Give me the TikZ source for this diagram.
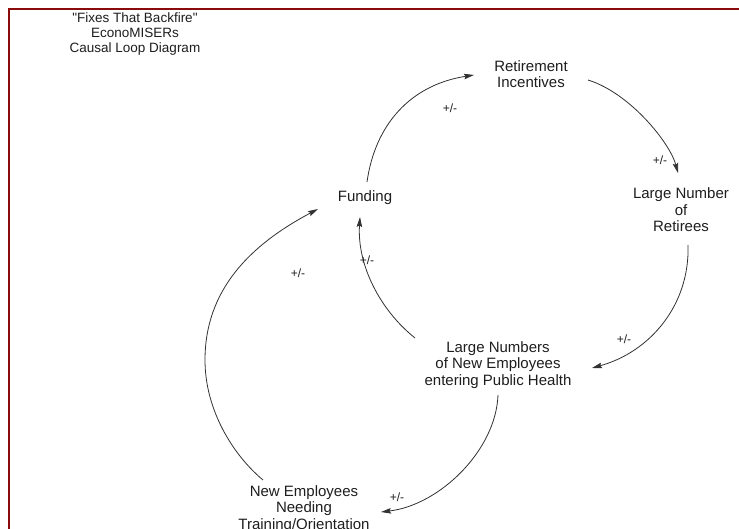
\documentclass[tikz,border=0pt]{standalone}
\usepackage{fontspec}
\setmainfont{Liberation Sans}
\usetikzlibrary{arrows.meta,calc}
\definecolor{framered}{RGB}{139,10,10}
\definecolor{ink}{RGB}{30,30,30}
\definecolor{wire}{RGB}{50,50,50}
\begin{document}
\begin{tikzpicture}[x=1bp,y=-1bp,
  var/.style={align=center,inner sep=0pt,text=ink,
    font=\fontsize{15bp}{16.5bp}\selectfont},
  heading/.style={align=center,inner sep=0pt,text=ink,
    font=\fontsize{13.5bp}{15bp}\selectfont},
  sign/.style={inner sep=0pt,text=ink,font=\fontsize{12bp}{13bp}\selectfont},
  link/.style={draw=wire,line width=0.8bp,
    -{Stealth[length=10bp,width=5.5bp,inset=1.5bp]}}]
\useasboundingbox (0,0) rectangle (739,529);
\fill[white] (0,0) rectangle (739,529);
% page frame
\draw[framered,line width=2.4bp] (9,529) -- (9,9) -- (739,9);

% title
\node[heading] (title) at (135,34) {\textquotedbl Fixes That Backfire\textquotedbl\\EconoMISERs\\Causal Loop Diagram};

% variables
\node[var] (ri)   at (531,74)  {Retirement\\Incentives};
\node[var] (fund) at (365,198) {Funding};
\node[var] (ret)  at (681,210) {Large Number\\of\\Retirees};
\node[var] (lne)  at (498,365) {Large Numbers\\of New Employees\\entering Public Health};
\node[var] (nen)  at (304,509) {New Employees\\Needing\\Training/Orientation};

% causal links
\draw[link] ($(fund)+(2,-16)$) .. controls +(8,-57) and +(-64,10) .. ($(ri)+(-57,1)$);
\draw[link] ($(ri)+(57,6)$) .. controls +(42,13) and +(-8,-30) .. ($(ret)+(-3,-37)$);
\draw[link] ($(ret)+(7,35)$) .. controls +(2,60) and +(58,-16) .. ($(lne)+(94,3)$);
\draw[link] ($(lne)+(-83,-27)$) .. controls +(-35,-28) and +(-3,48) .. ($(fund)+(-5,19)$);
\draw[link] ($(lne)+(0,30)$) .. controls +(-2,55) and +(59,-7) .. ($(nen)+(77,3)$);
\draw[link] ($(nen)+(-41,-29)$) .. controls (233,455) and (205,410) .. (205,360)
  .. controls (205,290) and (250,245) .. ($(fund)+(-47,11)$);

% polarity labels
\node[sign] (s1) at (450,108) {+/-};
\node[sign] (s2) at (660,160) {+/-};
\node[sign] (s3) at (624,339) {+/-};
\node[sign] (s4) at (367,260) {+/-};
\node[sign] (s5) at (397,497) {+/-};
\node[sign] (s6) at (298,273) {+/-};
\end{tikzpicture}
\end{document}
